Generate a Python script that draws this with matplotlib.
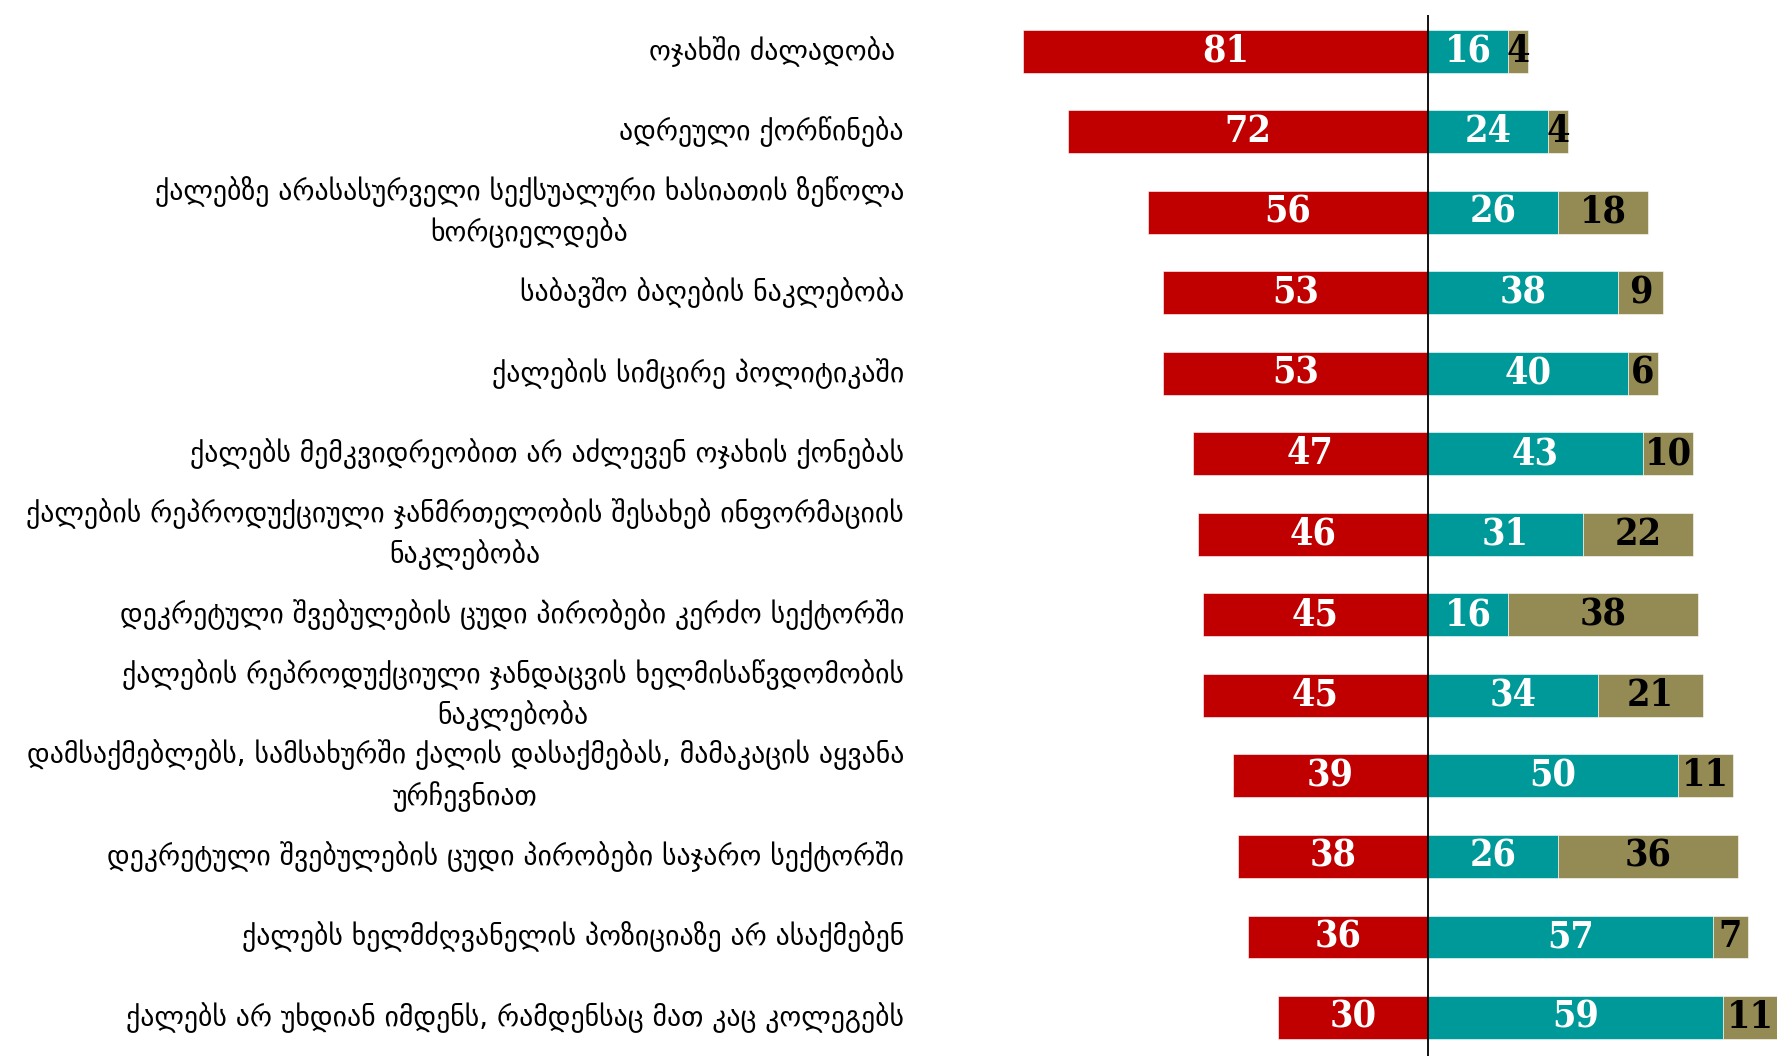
import matplotlib
matplotlib.use("Agg")
import matplotlib.pyplot as plt
import numpy as np

labels = [
    "ოჯახში ძალადობა ",
    "ადრეული ქორწინება",
    "ქალებზე არასასურველი სექსუალური ხასიათის ზეწოლა\nხორციელდება",
    "საბავშო ბაღების ნაკლებობა",
    "ქალების სიმცირე პოლიტიკაში",
    "ქალებს მემკვიდრეობით არ აძლევენ ოჯახის ქონებას",
    "ქალების რეპროდუქციული ჯანმრთელობის შესახებ ინფორმაციის\nნაკლებობა",
    "დეკრეტული შვებულების ცუდი პირობები კერძო სექტორში",
    "ქალების რეპროდუქციული ჯანდაცვის ხელმისაწვდომობის\nნაკლებობა",
    "დამსაქმებლებს, სამსახურში ქალის დასაქმებას, მამაკაცის აყვანა\nურჩევნიათ",
    "დეკრეტული შვებულების ცუდი პირობები საჯარო სექტორში",
    "ქალებს ხელმძღვანელის პოზიციაზე არ ასაქმებენ",
    "ქალებს არ უხდიან იმდენს, რამდენსაც მათ კაც კოლეგებს",
]
red = [81, 72, 56, 53, 53, 47, 46, 45, 45, 39, 38, 36, 30]
teal = [16, 24, 26, 38, 40, 43, 31, 16, 34, 50, 26, 57, 59]
olive = [4, 4, 18, 9, 6, 10, 22, 38, 21, 11, 36, 7, 11]

c_red = "#C00000"
c_teal = "#009999"
c_olive = "#948A54"

fig = plt.figure(figsize=(17.77, 10.56), dpi=100)
ax = fig.add_axes([1000 / 1777, 0, 777 / 1777, 1 - 15 / 1056])

y = np.arange(len(labels))
red_a = np.array(red)
teal_a = np.array(teal)
olive_a = np.array(olive)
h = 0.53

ax.barh(y, -red_a, height=h, color=c_red, edgecolor="white", linewidth=0.4)
ax.barh(y, teal_a, height=h, color=c_teal, edgecolor="white", linewidth=0.4)
ax.barh(y, olive_a, left=teal_a, height=h, color=c_olive, edgecolor="white", linewidth=0.4)

# digits: condensed bold serif sits closest to the original's weight
num_font = dict(family="DejaVu Serif", fontsize=27, fontweight="bold",
                fontstretch="condensed", va="center", ha="center")
for i in range(len(labels)):
    ax.text(-red_a[i] / 2, i, str(red[i]), color="white", **num_font)
    ax.text(teal_a[i] / 2, i, str(teal[i]), color="white", **num_font)
    ax.text(teal_a[i] + olive_a[i] / 2, i, str(olive[i]), color="black", **num_font)
    ax.text(-104.8, i, labels[i], ha="right", va="center", multialignment="center",
            fontsize=20, family="DejaVu Sans", color="black", linespacing=1.45)

ax.axvline(0, color="black", lw=1.3)
ax.set_xlim(-85.6, 69.8)
ax.set_ylim(12.48, -0.45)
ax.axis("off")

fig.savefig("out.png", dpi=100)
